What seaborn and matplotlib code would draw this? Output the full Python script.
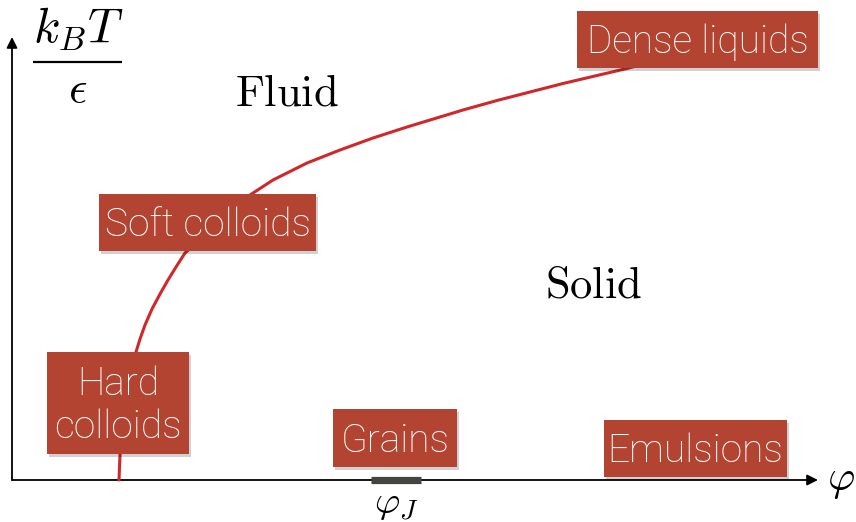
import matplotlib
matplotlib.use("Agg")
import matplotlib.pyplot as plt
import seaborn as sns
import pandas as pd
from matplotlib.patches import Rectangle

# ---- data (x = packing fraction, y = temperature, arbitrary units) ----
phi = [107, 108, 124, 128, 133, 140, 148, 156, 164, 173, 238, 261, 295, 328, 361, 395,
       428, 451, 485, 518, 551, 585, 615, 628]
temp = [0, 25, 128, 141, 155, 171, 186, 200, 213, 227, 285, 300, 317, 330, 342, 353,
        363, 370, 379.5, 388, 396.5, 404.5, 411.5, 415]
phi_j_range = [359, 409]

system_labels = ["Dense liquids", "Soft colloids", "Hard\ncolloids", "Grains", "Emulsions"]
region_labels = ["Fluid", "Solid"]
x_label = r"$\varphi$"
y_label_num = r"$k_BT$"
y_label_den = r"$\epsilon$"
jam_label = r"$\varphi_J$"

# ---- layout (boxes: x0, x1, y0, y1 in data units) ----
boxes = [(565, 806, 412, 469), (87, 304, 229, 286), (35, 177, 26, 128),
         (321, 445, 13, 71), (592, 775, 3, 60)]
region_pos = [(275, 374), (582, 183)]

sns.set_theme(style="white")
plt.rcParams["mathtext.fontset"] = "cm"

fig = plt.figure(figsize=(8.56, 5.22), dpi=100)
ax = fig.add_axes([0, 0, 1, 1])
ax.set_xlim(-12, 844)
ax.set_ylim(-42, 480)
ax.axis("off")

df = pd.DataFrame({"phi": phi, "T": temp})
sns.lineplot(data=df, x="phi", y="T", sort=False, color="#d0282a", lw=2.2, ax=ax, zorder=2)

# axes arrows
arrow_kw = dict(arrowstyle="-|>", lw=1.3, color="black", mutation_scale=16, shrinkA=0, shrinkB=0)
ax.annotate("", xy=(806, 0), xytext=(0, 0), arrowprops=arrow_kw, zorder=1)
ax.annotate("", xy=(0, 443), xytext=(0, 0), arrowprops=arrow_kw, zorder=1)

# jamming segment
ax.plot(phi_j_range, [0, 0], color="#45443e", lw=5.2, solid_capstyle="butt", zorder=3)
ax.text(sum(phi_j_range) / 2, -24, jam_label, fontsize=28, ha="center", va="center", color="black")

ax.text(815, 0, x_label, fontsize=30, ha="left", va="center", color="black")

# y label as a stacked fraction
ax.text(66, 437, y_label_num, fontsize=35, ha="center", va="baseline", color="black")
ax.plot([21, 110], [418, 418], color="black", lw=1.6, solid_capstyle="butt")
ax.text(66, 377, y_label_den, fontsize=33, ha="center", va="baseline", color="black")

for (x0, x1, y0, y1), lab in zip(boxes, system_labels):
    ax.add_patch(Rectangle((x0 + 2, y0 - 3), x1 - x0, y1 - y0, facecolor="#000000",
                           alpha=0.18, edgecolor="none", zorder=4))
    ax.add_patch(Rectangle((x0, y0), x1 - x0, y1 - y0, facecolor="#b44432",
                           edgecolor="none", zorder=5))
    ax.text((x0 + x1) / 2, (y0 + y1) / 2 - 3, lab, fontsize=28, family="Roboto", fontweight="light",
            color="white", ha="center", va="center", linespacing=1.2, zorder=6)

for (x, y), lab in zip(region_pos, region_labels):
    ax.text(x, y, r"$\mathrm{" + lab + "}$", fontsize=32, ha="center", va="baseline", color="black")

fig.savefig("out.png", dpi=100)
